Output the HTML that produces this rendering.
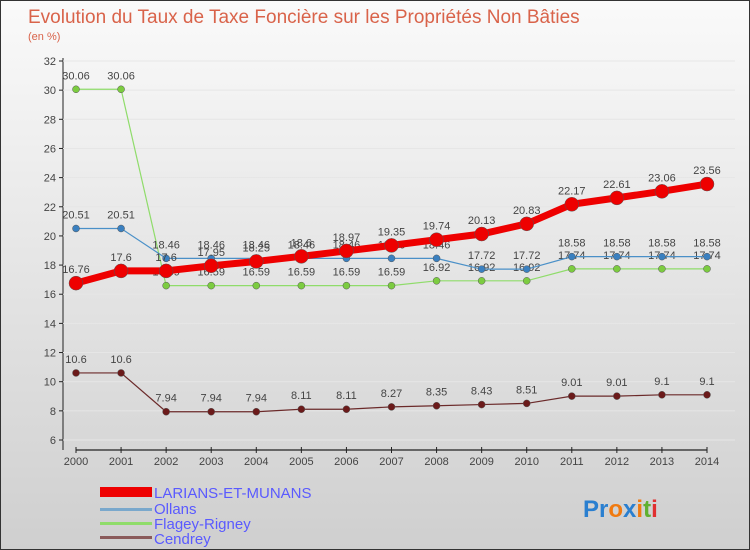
<!DOCTYPE html>
<html><head><meta charset="utf-8"><style>
body{margin:0;width:750px;height:550px;overflow:hidden;font-family:"Liberation Sans",sans-serif}
svg{display:block}
</style></head><body>
<svg id="c" width="750" height="550" xmlns="http://www.w3.org/2000/svg">
<defs><linearGradient id="bg" x1="0" y1="0" x2="0" y2="1"><stop offset="0" stop-color="#fafafa"/><stop offset="1" stop-color="#cfcfcf"/></linearGradient></defs>
<rect x="0.5" y="0.5" width="749" height="549" fill="url(#bg)" stroke="#333"/>
<text x="28" y="23" font-size="19" fill="#d9634a">Evolution du Taux de Taxe Foncière sur les Propriétés Non Bâties</text>
<text x="28" y="40" font-size="11" fill="#d9634a">(en %)</text>
<g id="axes"></g><g id="series"></g>
<g>
<rect x="100" y="487" width="52" height="10" fill="#e00"/>
<text x="154" y="498" font-size="15" fill="#5a5aff">LARIANS-ET-MUNANS</text>
<rect x="100" y="508" width="52" height="3" fill="#7aa8cc"/>
<text x="154" y="514" font-size="15" fill="#5a5aff">Ollans</text>
<rect x="100" y="522" width="52" height="3" fill="#8fdc6a"/>
<text x="154" y="529" font-size="15" fill="#5a5aff">Flagey-Rigney</text>
<rect x="100" y="536" width="52" height="3" fill="#8a5a5a"/>
<text x="154" y="544" font-size="15" fill="#5a5aff">Cendrey</text>
</g>
<text x="583" y="517" font-size="24" font-weight="bold"><tspan fill="#2a7fd0">Pr</tspan><tspan fill="#f07a10">o</tspan><tspan fill="#2a7fd0">x</tspan><tspan fill="#f07a10">i</tspan><tspan fill="#60b030">t</tspan><tspan fill="#e03030">i</tspan></text>
</svg>
<script>
const years=[2000,2001,2002,2003,2004,2005,2006,2007,2008,2009,2010,2011,2012,2013,2014];
const yTicks=[6,8,10,12,14,16,18,20,22,24,26,28,30,32];
const larians=[16.76,17.6,17.6,17.95,18.25,18.6,18.97,19.35,19.74,20.13,20.83,22.17,22.61,23.06,23.56];
const ollans=[20.51,20.51,18.46,18.46,18.46,18.46,18.46,18.46,18.46,17.72,17.72,18.58,18.58,18.58,18.58];
const flagey=[30.06,30.06,16.59,16.59,16.59,16.59,16.59,16.59,16.92,16.92,16.92,17.74,17.74,17.74,17.74];
const cendrey=[10.6,10.6,7.94,7.94,7.94,8.11,8.11,8.27,8.35,8.43,8.51,9.01,9.01,9.1,9.1];
const NS="http://www.w3.org/2000/svg";
const X=i=>76+i*(707-76)/(years.length-1);
const Y=v=>440-(v-6)*(440-61)/26;
function mk(t,a,p){const e=document.createElementNS(NS,t);for(const k in a)e.setAttribute(k,a[k]);p.appendChild(e);return e;}
const ax=document.getElementById('axes');
const yl=mk('line',{x1:63,y1:58,x2:63,y2:450,stroke:'#222'},ax);


const xl=mk('line',{x1:76,y1:450,x2:707,y2:450,stroke:'#222','stroke-width':1.2},ax);


yTicks.forEach(v=>{
  const g=mk('line',{x1:63,y1:Y(v),x2:735,y2:Y(v),stroke:'#e6e6e6'},ax);
  
  
  mk('line',{x1:59,y1:Y(v),x2:63,y2:Y(v),stroke:'#222'},ax);
  const t=mk('text',{x:56,y:Y(v)+4,'font-size':11,fill:'#444','text-anchor':'end'},ax);
  t.textContent=v;
  
  
});
years.forEach((yr,i)=>{
  mk('line',{x1:X(i),y1:447,x2:X(i),y2:453,stroke:'#222'},ax);
  const t=mk('text',{x:X(i),y:465,'font-size':11,fill:'#444','text-anchor':'middle'},ax);
  t.textContent=yr;
  
  
});
const sg=document.getElementById('series');
function draw(vals,color,w,r,name,pcol){
  const g=mk('g',{},sg);
  
  
  const l=mk('polyline',{points:vals.map((v,i)=>X(i)+','+Y(v)).join(' '),fill:'none',stroke:color,'stroke-width':w},g);
  
  
  vals.forEach((v,i)=>{
    const c=mk('circle',{cx:X(i),cy:Y(v),r:r,fill:pcol,stroke:'#555','stroke-width':0.5},g);
    
    
    const t=mk('text',{x:X(i),y:Y(v)-10,'font-size':11,fill:'#444','text-anchor':'middle'},g);
    t.textContent=v;
    
    
  });
}
draw(cendrey,'#6b2a2a',1.2,3.5,'cendrey','#6b1a1a');
draw(flagey,'#8fdc6a',1.2,3.5,'flagey-rigney','#7ccc40');
draw(ollans,'#4a90c8',1.2,3.5,'ollans','#3a80c0');
draw(larians,'#ee0000',7,7,'larians-et-munans','#ee0000');
</script>
</body></html>
